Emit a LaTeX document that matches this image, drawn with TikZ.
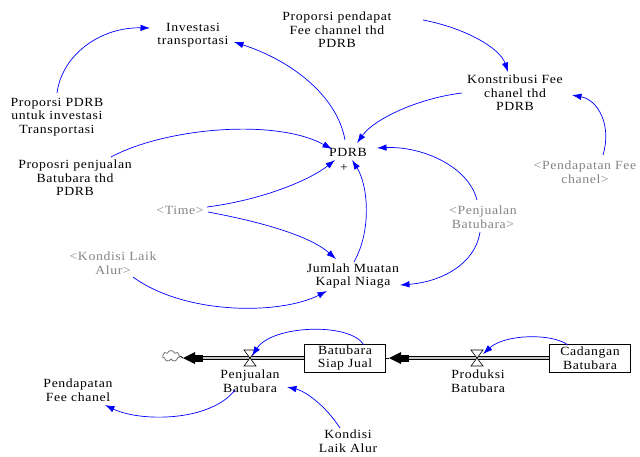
\documentclass[tikz,border=0pt]{standalone}
\usepackage{fontspec}
\setmainfont{Liberation Serif}[FakeStretch=1.1,LetterSpace=5]
\usetikzlibrary{arrows.meta,shapes.symbols}
\begin{document}
\begin{tikzpicture}[x=1pt,y=-1pt,
  lbl/.style={font=\fontsize{12.5}{13.5}\selectfont, align=center, inner sep=1pt},
  ghost/.style={lbl, text=black!48},
  link/.style={draw=blue, line width=0.7pt, -{Latex[length=9.5pt,width=6.5pt]}},
  stock/.style={lbl, draw=black, line width=0.8pt, minimum width=81pt, minimum height=28pt, inner sep=0pt},
  pipe/.style={draw=black, line width=0.7pt, double=black!22, double distance=1.8pt},
  valve/.pic={\draw[black, line width=0.6pt, fill=white] (-6,-8)--(6,-8)--(-6,8)--(6,8)--cycle;},
]
\fill[white] (0,0) rectangle (640,456);
\useasboundingbox (0,0) rectangle (640,456);

% auxiliaries and variables
\node[lbl] (inv)  at (193,35)  {Investasi\\transportasi};
\node[lbl] (ppf)  at (337,30)  {Proporsi pendapat\\Fee channel thd\\PDRB};
\node[lbl] (kons) at (515,93)  {Konstribusi Fee\\chanel thd\\PDRB};
\node[lbl] (ppdrb) at (57,117) {Proporsi PDRB\\untuk investasi\\Transportasi};
\node[lbl] (pdrb) at (348,152) {PDRB};
\node[lbl] (plus) at (344,168) {+};
\node[lbl] (ppb)  at (75,178)  {Proposri penjualan\\Batubara thd\\PDRB};
\node[ghost] (time) at (180,210) {<Time>};
\node[ghost] (pfee) at (585,172) {<Pendapatan Fee\\chanel>};
\node[ghost] (pjb)  at (483,217) {<Penjualan\\Batubara>};
\node[ghost] (kla)  at (113,263) {<Kondisi Laik\\Alur>};
\node[lbl] (jmk)  at (353,276) {Jumlah Muatan\\Kapal Niaga};

% stock and flow structure
\node[cloud, draw=black!55, line width=0.8pt, cloud puffs=7, aspect=1.6,
      minimum width=17pt, minimum height=11pt, inner sep=0pt] (cloud) at (171,356) {};
\node[stock] (siap) at (345,358) {Batubara\\Siap Jual};
\node[stock] (cad)  at (590,358) {Cadangan\\Batubara};
\coordinate (vp) at (250,358);
\coordinate (vprod) at (477,358);
\coordinate (tipL) at (183,358);
\coordinate (tipR) at (389,358);

\draw[pipe] ([shift={(20,0)}]tipL) -- (siap.west |- tipL);
\draw[line width=0.8pt] (cloud.east) -- (tipL);
\fill (tipL) -- ++(12,-6) -- ++(0,12) -- cycle;
\fill ([shift={(12,-3.5)}]tipL) rectangle ([shift={(20,3.5)}]tipL);

\draw[pipe] ([shift={(20,0)}]tipR) -- (cad.west |- tipR);
\draw[line width=0.8pt] (siap.east |- tipR) -- (tipR);
\fill (tipR) -- ++(12,-6) -- ++(0,12) -- cycle;
\fill ([shift={(12,-3.5)}]tipR) rectangle ([shift={(20,3.5)}]tipR);

\pic at (vp) {valve};
\pic at (vprod) {valve};
\node[lbl] (pjl)  at (250,381) {Penjualan\\Batubara};
\node[lbl] (prod) at (478,381) {Produksi\\Batubara};
\node[lbl] (pfc)  at (78,390)  {Pendapatan\\Fee chanel};
\node[lbl] (kondisi) at (348,441) {Kondisi\\Laik Alur};

% causal links
\draw[link] ([shift={(0,-24)}]ppdrb.center) .. controls (62,55) and (100,27) .. ([shift={(-43,-7)}]inv.center);
\draw[link] ([shift={(-3,-12)}]pdrb.center) .. controls (337,95) and (290,60) .. ([shift={(41,7)}]inv.center);
\draw[link] ([shift={(86,-10)}]ppf.center) .. controls (465,28) and (500,48) .. ([shift={(-7,-21)}]kons.center);
\draw[link] ([shift={(-53,0)}]kons.center) .. controls (420,98) and (375,118) .. ([shift={(9,-9)}]pdrb.center);
\draw[link] ([shift={(18,-17)}]pfee.center) .. controls (612,125) and (598,100) .. ([shift={(57,2)}]kons.center);
\draw[link] ([shift={(-6,-17)}]pjb.center) .. controls (468,165) and (420,146) .. ([shift={(29,-4)}]pdrb.center);
\draw[link] ([shift={(-3,15)}]pjb.center) .. controls (475,265) and (440,282) .. ([shift={(47,9)}]jmk.center);
\draw[link] ([shift={(36,-21)}]ppb.center) .. controls (165,128) and (275,118) .. ([shift={(-16,-3)}]pdrb.center);
\draw[link] ([shift={(27,-3)}]time.center) .. controls (262,200) and (310,180) .. ([shift={(-13,8)}]pdrb.center);
\draw[link] ([shift={(28,2)}]time.center) .. controls (262,222) and (310,236) .. ([shift={(-17,-17)}]jmk.center);
\draw[link] ([shift={(1,-14)}]jmk.center) .. controls (372,230) and (368,185) .. ([shift={(4,8)}]pdrb.center);
\draw[link] ([shift={(20,14)}]kla.center) .. controls (185,315) and (280,315) .. ([shift={(-26,15)}]jmk.center);
\draw[link] ([shift={(19,-13)}]siap.center) .. controls (350,322) and (272,325) .. ([shift={(2,-2)}]vp);
\draw[link] ([shift={(-22,-13)}]cad.center) .. controls (552,333) and (505,334) .. ([shift={(6,-4)}]vprod);
\draw[link] ([shift={(-15,9)}]pjl.center) .. controls (210,422) and (140,422) .. ([shift={(27,15)}]pfc.center);
\draw[link] ([shift={(-8,-13)}]kondisi.center) .. controls (325,405) and (305,391) .. ([shift={(37,6)}]pjl.center);
\end{tikzpicture}
\end{document}
